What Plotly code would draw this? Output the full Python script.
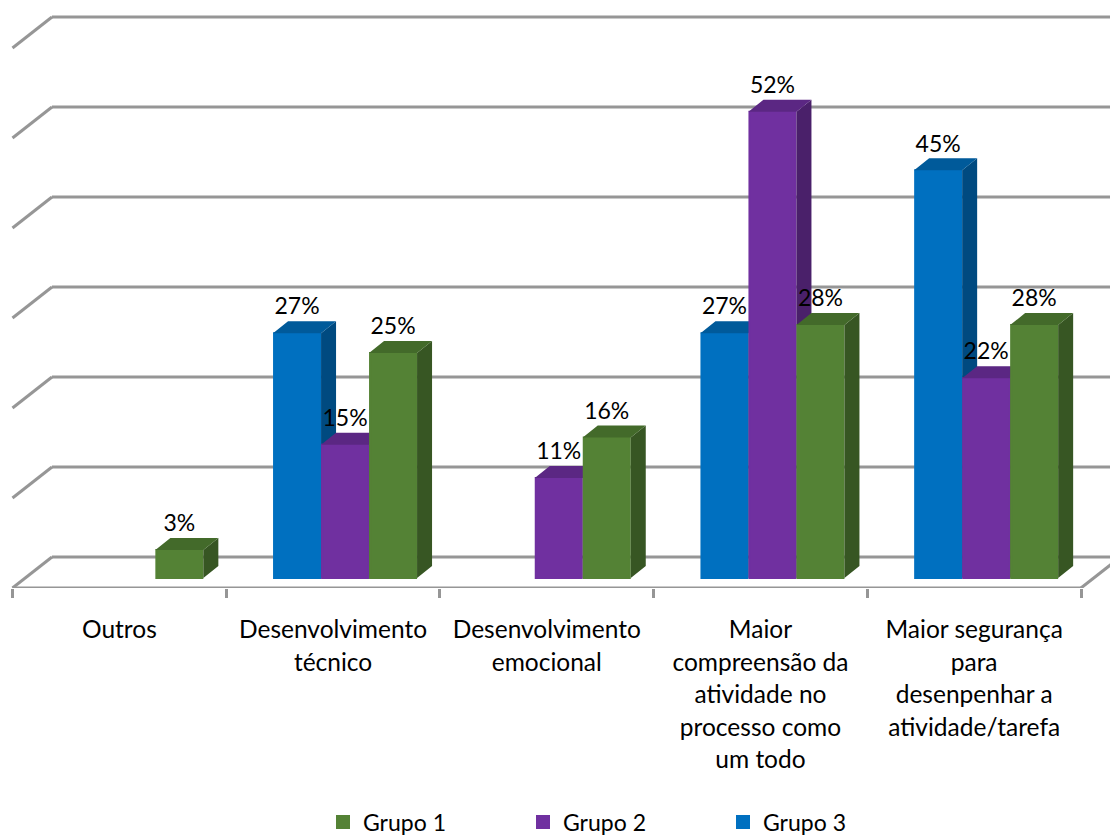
import plotly.graph_objects as go

categories = ["Outros", "Desenvolvimento<br>técnico", "Desenvolvimento<br>emocional",
              "Maior<br>compreensão da<br>atividade no<br>processo como<br>um todo",
              "Maior segurança<br>para<br>desenpenhar a<br>atividade/tarefa"]
grupo_1 = [3.1, 25, 15.6, 28.1, 28.1]
grupo_2 = [None, 14.8, 11.1, 51.8, 22.2]
grupo_3 = [None, 27.2, None, 27.2, 45.3]
grid_values = [0, 10, 20, 30, 40, 50, 60]

FONT = "Lato"
GRID = "#969696"
# pixel geometry of the pseudo-3D projection
CAT_PX, VAL_PX = 213.7, 9.0
W, H, AXIS_B, BASE_PX, LEFT_PX = 1110, 840, 588, 578, 12.5
BAR_W = 48 / CAT_PX
OUTLINE = 2
DX, DY = 15 / CAT_PX, 12 / VAL_PX
WALL_DX, WALL_DY = 39.5 / CAT_PX, 21 / VAL_PX
FLOOR_DY = 31 / VAL_PX
x_range = [-LEFT_PX / CAT_PX, (W - LEFT_PX) / CAT_PX]
y_range = [-(AXIS_B - BASE_PX) / VAL_PX, BASE_PX / VAL_PX]
GROUP_START = 0.5 - 60 / CAT_PX

series = [  # drawn back-to-front, left to right
    ("Grupo 3", grupo_3, 0, "#0070C0", "#004A80", "#005A9A"),
    ("Grupo 2", grupo_2, 1, "#7030A0", "#4A206A", "#5B2783"),
    ("Grupo 1", grupo_1, 2, "#548235", "#375623", "#436A2A"),
]
# later subplots stack above earlier ones
axis_of = {"Grupo 3": ("x", "y"), "Grupo 2": ("x2", "y2"), "Grupo 1": ("x3", "y3")}
legend_rank = {"Grupo 1": 1, "Grupo 2": 2, "Grupo 3": 3}

fig = go.Figure()
label_x, label_y, label_t = [], [], []
for name, vals, pos, front, side, top in series:
    xa, ya = axis_of[name]
    lefts = [i + GROUP_START + pos * BAR_W for i in range(len(vals))]
    fig.add_trace(go.Bar(
        x=[l + BAR_W / 2 for l in lefts], y=vals, width=BAR_W - OUTLINE / CAT_PX, name=name,
        marker=dict(color=front, line=dict(width=OUTLINE, color=front)), xaxis=xa, yaxis=ya,
        legendrank=legend_rank[name], hoverinfo="skip"))
    sx, sy, tx, ty = [], [], [], []
    for l, v in zip(lefts, vals):
        if v is None:
            continue
        r = l + BAR_W
        sx += [r, r + DX, r + DX, r, r, None]
        sy += [0, DY, v + DY, v, 0, None]
        tx += [l, l + DX, r + DX, r, l, None]
        ty += [v, v + DY, v + DY, v, v, None]
        label_x.append(l + BAR_W / 2)
        label_y.append(v + 24.5 / VAL_PX)
        label_t.append(f"{round(v)}%")
    for px, py, color in ((sx, sy, side), (tx, ty, top)):
        fig.add_trace(go.Scatter(
            x=px, y=py, mode="lines", fill="toself", fillcolor=color,
            line=dict(width=0, color=color), showlegend=False,
            hoverinfo="skip", xaxis=xa, yaxis=ya))

fig.add_trace(go.Scatter(
    x=label_x, y=label_y, text=label_t, mode="text", textposition="middle center",
    textfont=dict(family=FONT, size=23, color="#000000"), showlegend=False,
    hoverinfo="skip", xaxis="x3", yaxis="y3"))

shapes = []
line = dict(color=GRID, width=3)
x_end = x_range[1]
wall_x = WALL_DX
for v in grid_values:
    yb = v + WALL_DY
    shapes.append(dict(type="line", xref="x", yref="y", layer="below", line=line,
                       x0=wall_x, x1=x_end, y0=yb, y1=yb))
    shapes.append(dict(type="line", xref="x", yref="y", layer="below", line=line,
                       x0=0, x1=wall_x, y0=yb - FLOOR_DY, y1=yb))
n = len(categories)
floor_y = WALL_DY - FLOOR_DY
shapes.append(dict(type="line", xref="x", yref="y", layer="below", line=line,
                   x0=0, x1=n, y0=floor_y, y1=floor_y))
shapes.append(dict(type="line", xref="x", yref="y", layer="below", line=line,
                   x0=n, x1=n + WALL_DX, y0=floor_y, y1=WALL_DY))

tick_text = [f'<span style="font-size:24.5px">{c}</span>' for c in categories]
fig.update_layout(
    width=W, height=H, margin=dict(l=0, r=0, t=0, b=H - AXIS_B),
    paper_bgcolor="white", plot_bgcolor="rgba(0,0,0,0)", barmode="overlay",
    font=dict(family=FONT, color="#000000"), shapes=shapes,
    xaxis=dict(range=x_range, tickvals=[i + 0.5 for i in range(n)], ticktext=tick_text,
               ticks="outside", ticklen=19, tickcolor="rgba(0,0,0,0)", tickwidth=1,
               tickfont=dict(family=FONT, size=25, color="#000000"), tickangle=0,
               showgrid=False, zeroline=False, showline=False,
               minor=dict(tickvals=list(range(n + 1)), ticks="outside", ticklen=9,
                          tickcolor=GRID, tickwidth=3, showgrid=False)),
    yaxis=dict(range=y_range, visible=False),
    xaxis2=dict(range=x_range, overlaying="x", visible=False),
    yaxis2=dict(range=y_range, overlaying="y", visible=False),
    xaxis3=dict(range=x_range, overlaying="x", visible=False),
    yaxis3=dict(range=y_range, overlaying="y", visible=False),
    legend=dict(orientation="h", x=323 / W, xanchor="left", y=18 / H, yanchor="middle",
                yref="container", entrywidth=155, entrywidthmode="pixels",
                traceorder="normal", font=dict(family=FONT, size=23, color="#000000")),
    showlegend=True,
)
fig.write_html("out.html", config={"displayModeBar": False},
               post_script="document.body.style.margin='0';document.body.style.overflow='hidden';")
